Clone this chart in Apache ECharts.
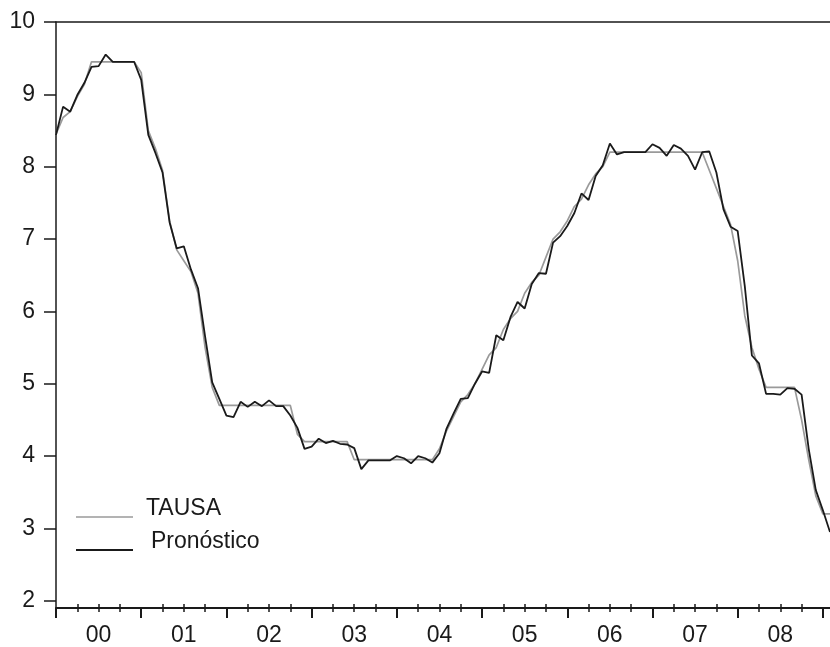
<!DOCTYPE html>
<html>
<head>
<meta charset="utf-8">
<script src="https://cdn.jsdelivr.net/npm/echarts@6/dist/echarts.min.js"></script>
<style>
  html, body { margin: 0; padding: 0; background: #fff; }
  #main { width: 830px; height: 647px; }
</style>
</head>
<body>
<div id="main"></div>
<script>
// monthly observations, 2000M01 onwards
const years = ["00", "01", "02", "03", "04", "05", "06", "07", "08"];
const yTicks = [2, 3, 4, 5, 6, 7, 8, 9, 10];

// TAUSA (gris)
const tausa = [
  8.45, 8.68, 8.76, 8.97, 9.14, 9.45, 9.45, 9.45, 9.45, 9.45, 9.45, 9.45,
  9.30, 8.50, 8.25, 7.95, 7.25, 6.85, 6.70, 6.55, 6.25, 5.50, 4.95, 4.70,
  4.70, 4.70, 4.70, 4.70, 4.70, 4.70, 4.70, 4.70, 4.70, 4.70, 4.30, 4.20,
  4.20, 4.20, 4.20, 4.20, 4.20, 4.20, 3.95, 3.95, 3.95, 3.95, 3.95, 3.95,
  3.95, 3.95, 3.95, 3.95, 3.95, 3.95, 4.10, 4.35, 4.55, 4.75, 4.85, 5.00,
  5.20, 5.40, 5.50, 5.75, 5.90, 6.00, 6.25, 6.40, 6.50, 6.75, 7.00, 7.10,
  7.25, 7.45, 7.55, 7.75, 7.90, 8.00, 8.20, 8.20, 8.20, 8.20, 8.20, 8.20,
  8.20, 8.20, 8.20, 8.20, 8.20, 8.20, 8.20, 8.20, 7.95, 7.70, 7.45, 7.20,
  6.70, 5.94, 5.50, 5.20, 4.95, 4.95, 4.95, 4.95, 4.95, 4.50, 3.95, 3.45,
  3.20, 3.20
];

// Pronóstico (negro)
const pronostico = [
  8.44, 8.83, 8.76, 8.99, 9.16, 9.38, 9.39, 9.55, 9.45, 9.45, 9.45, 9.45,
  9.20, 8.44, 8.19, 7.92, 7.23, 6.87, 6.90, 6.58, 6.32, 5.65, 5.02, 4.79,
  4.56, 4.54, 4.75, 4.68, 4.75, 4.69, 4.77, 4.69, 4.69, 4.56, 4.39, 4.10,
  4.13, 4.24, 4.18, 4.21, 4.17, 4.16, 4.11, 3.82, 3.94, 3.94, 3.94, 3.94,
  4.00, 3.97, 3.90, 4.00, 3.97, 3.91, 4.04, 4.38, 4.59, 4.79, 4.80, 5.00,
  5.17, 5.15, 5.67, 5.60, 5.92, 6.13, 6.04, 6.38, 6.53, 6.52, 6.95, 7.04,
  7.18, 7.36, 7.63, 7.54, 7.87, 8.02, 8.32, 8.17, 8.20, 8.20, 8.20, 8.20,
  8.31, 8.26, 8.15, 8.30, 8.25, 8.15, 7.96, 8.20, 8.21, 7.92, 7.41, 7.17,
  7.11, 6.35, 5.39, 5.28, 4.86, 4.86, 4.85, 4.94, 4.93, 4.85, 4.10, 3.53,
  3.25, 2.95
];

const FONT = "'Liberation Sans', Arial, sans-serif";
const xMax = pronostico.length - 1;

// ticks: year starts (major), quarters (minor), labels at mid-year
const yearTicks = [];
const quarterTicks = [];
const yearMids = [];
for (let k = 0; k <= years.length; k++) yearTicks.push(k * 12);
for (let k = 0; k < years.length; k++) {
  yearMids.push(k * 12 + 6);
  quarterTicks.push(k * 12 + 3, k * 12 + 6, k * 12 + 9);
}

const chart = echarts.init(document.getElementById("main"));

const baseX = { type: "value", min: 0, max: xMax, splitLine: { show: false } };

chart.setOption({
  animation: false,
  grid: { left: 56, top: 22, width: 774, bottom: 37, containLabel: false },
  xAxis: [
    Object.assign({}, baseX, {
      position: "bottom",
      axisLine: { lineStyle: { color: "#1a1a1a", width: 2 } },
      axisTick: { customValues: yearTicks, inside: false, length: 10, lineStyle: { color: "#1a1a1a", width: 2 } },
      axisLabel: {
        customValues: yearMids,
        formatter: (v) => years[(v - 6) / 12],
        margin: 16, fontSize: 23, color: "#1a1a1a", fontFamily: FONT
      }
    }),
    Object.assign({}, baseX, {
      position: "bottom",
      axisLine: { show: false },
      axisTick: { customValues: quarterTicks, inside: true, length: 4, lineStyle: { color: "#1a1a1a", width: 1.5 } },
      axisLabel: { show: false }
    }),
    Object.assign({}, baseX, {
      position: "bottom",
      axisLine: { show: false },
      axisTick: { customValues: quarterTicks, inside: false, length: 4, lineStyle: { color: "#1a1a1a", width: 1.5 } },
      axisLabel: { show: false }
    }),
    Object.assign({}, baseX, {
      position: "top",
      axisLine: { lineStyle: { color: "#1a1a1a", width: 1.5 } },
      axisTick: { show: false },
      axisLabel: { show: false }
    })
  ],
  yAxis: {
    type: "value",
    min: 1.9,
    max: 10,
    splitLine: { show: false },
    axisLine: { show: true, lineStyle: { color: "#1a1a1a", width: 1.5 } },
    axisTick: { customValues: yTicks, length: 12, lineStyle: { color: "#1a1a1a", width: 1.5 } },
    axisLabel: { customValues: yTicks, margin: 21, fontSize: 23, color: "#1a1a1a", fontFamily: FONT }
  },
  series: [
    {
      name: "TAUSA",
      type: "line",
      showSymbol: false,
      data: tausa.map((v, i) => [i, v]),
      lineStyle: { color: "#9a9a9a", width: 1.7 },
      z: 2
    },
    {
      name: "Pronóstico",
      type: "line",
      showSymbol: false,
      data: pronostico.map((v, i) => [i, v]),
      lineStyle: { color: "#1a1a1a", width: 1.8 },
      z: 3
    }
  ],
  // leyenda como en el original: raya debajo de la línea de texto
  graphic: [
    { type: "line", shape: { x1: 76, y1: 517, x2: 133, y2: 517 }, style: { stroke: "#9a9a9a", lineWidth: 1.7 } },
    { type: "text", left: 146, top: 497, style: { text: "TAUSA", fontSize: 23, fontFamily: FONT, fill: "#1a1a1a" } },
    { type: "line", shape: { x1: 76, y1: 550, x2: 133, y2: 550 }, style: { stroke: "#1a1a1a", lineWidth: 1.8 } },
    { type: "text", left: 151, top: 530, style: { text: "Pronóstico", fontSize: 23, fontFamily: FONT, fill: "#1a1a1a" } }
  ]
});
</script>
</body>
</html>
